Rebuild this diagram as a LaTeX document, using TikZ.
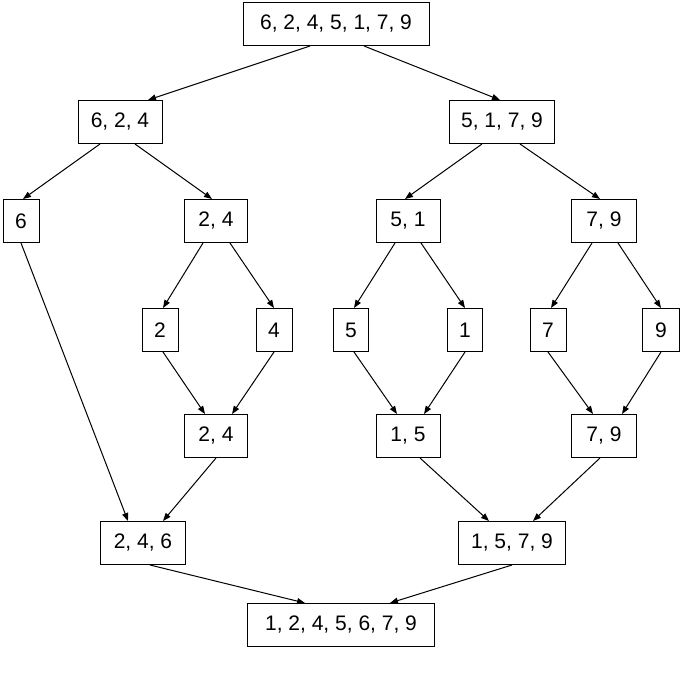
\documentclass[tikz,border=0pt]{standalone}
\usepackage{fontspec}
\setmainfont{Liberation Sans}
\usetikzlibrary{arrows.meta}
\begin{document}
\begin{tikzpicture}[x=1pt,y=-1pt,
  box/.style={draw,line width=1pt,minimum height=43pt,inner sep=0pt,font=\fontsize{21}{25}\selectfont},
  arr/.style={line width=1pt,-{Triangle[length=8pt,width=6pt]}}]
\useasboundingbox (0,0) rectangle (685,677);
\node[box,minimum width=186pt] (r) at (336,24) {6, 2, 4, 5, 1, 7, 9};
\node[box,minimum width=84pt] (a) at (120,122) {6, 2, 4};
\node[box,minimum width=105pt] (b) at (502,122) {5, 1, 7, 9};
\node[box,minimum width=36pt] (n6) at (21,221) {6};
\node[box,minimum width=63pt] (c24) at (216,221) {2, 4};
\node[box,minimum width=64pt] (c51) at (408,221) {5, 1};
\node[box,minimum width=65pt] (c79) at (604,221) {7, 9};
\node[box,minimum width=36pt] (n2) at (160,330) {2};
\node[box,minimum width=36pt] (n4) at (274,330) {4};
\node[box,minimum width=35pt] (n5) at (351,330) {5};
\node[box,minimum width=35pt] (n1) at (465,330) {1};
\node[box,minimum width=36pt] (n7) at (548,330) {7};
\node[box,minimum width=37pt] (n9) at (661,330) {9};
\node[box,minimum width=63pt] (m24) at (216,436) {2, 4};
\node[box,minimum width=64pt] (m15) at (408,436) {1, 5};
\node[box,minimum width=65pt] (m79) at (604,436) {7, 9};
\node[box,minimum width=85pt] (m246) at (143,543) {2, 4, 6};
\node[box,minimum width=107pt] (m1579) at (512,543) {1, 5, 7, 9};
\node[box,minimum width=187pt] (f) at (341,625) {1, 2, 4, 5, 6, 7, 9};
\draw[arr] ([xshift=-26pt]r.south) -- ([xshift=28pt]a.north);
\draw[arr] ([xshift=28pt]r.south) -- ([xshift=-2pt]b.north);
\draw[arr] ([xshift=-20pt]a.south) -- ([xshift=2pt]n6.north);
\draw[arr] ([xshift=15pt]a.south) -- ([xshift=-4pt]c24.north);
\draw[arr] ([xshift=-20pt]b.south) -- ([xshift=-3pt]c51.north);
\draw[arr] ([xshift=18pt]b.south) -- ([xshift=-4pt]c79.north);
\draw[arr] (n6.south) -- ([xshift=-15pt]m246.north);
\draw[arr] ([xshift=-13pt]c24.south) -- ([xshift=3pt]n2.north);
\draw[arr] ([xshift=14pt]c24.south) -- (n4.north);
\draw[arr] ([xshift=-13pt]c51.south) -- ([xshift=3pt]n5.north);
\draw[arr] ([xshift=13pt]c51.south) -- (n1.north);
\draw[arr] ([xshift=-12pt]c79.south) -- ([xshift=3pt]n7.north);
\draw[arr] ([xshift=14pt]c79.south) -- (n9.north);
\draw[arr] ([xshift=3pt]n2.south) -- ([xshift=-11pt]m24.north);
\draw[arr] (n4.south) -- ([xshift=16pt]m24.north);
\draw[arr] ([xshift=3pt]n5.south) -- ([xshift=-11pt]m15.north);
\draw[arr] (n1.south) -- ([xshift=16pt]m15.north);
\draw[arr] (n7.south) -- ([xshift=-11pt]m79.north);
\draw[arr] (n9.south) -- ([xshift=18pt]m79.north);
\draw[arr] (m24.south) -- ([xshift=20pt]m246.north);
\draw[arr] ([xshift=12pt]m15.south) -- ([xshift=-23pt]m1579.north);
\draw[arr] ([xshift=-4pt]m79.south) -- ([xshift=21pt]m1579.north);
\draw[arr] ([xshift=7pt]m246.south) -- ([xshift=-36pt]f.north);
\draw[arr] (m1579.south) -- ([xshift=49pt]f.north);
\end{tikzpicture}
\end{document}
